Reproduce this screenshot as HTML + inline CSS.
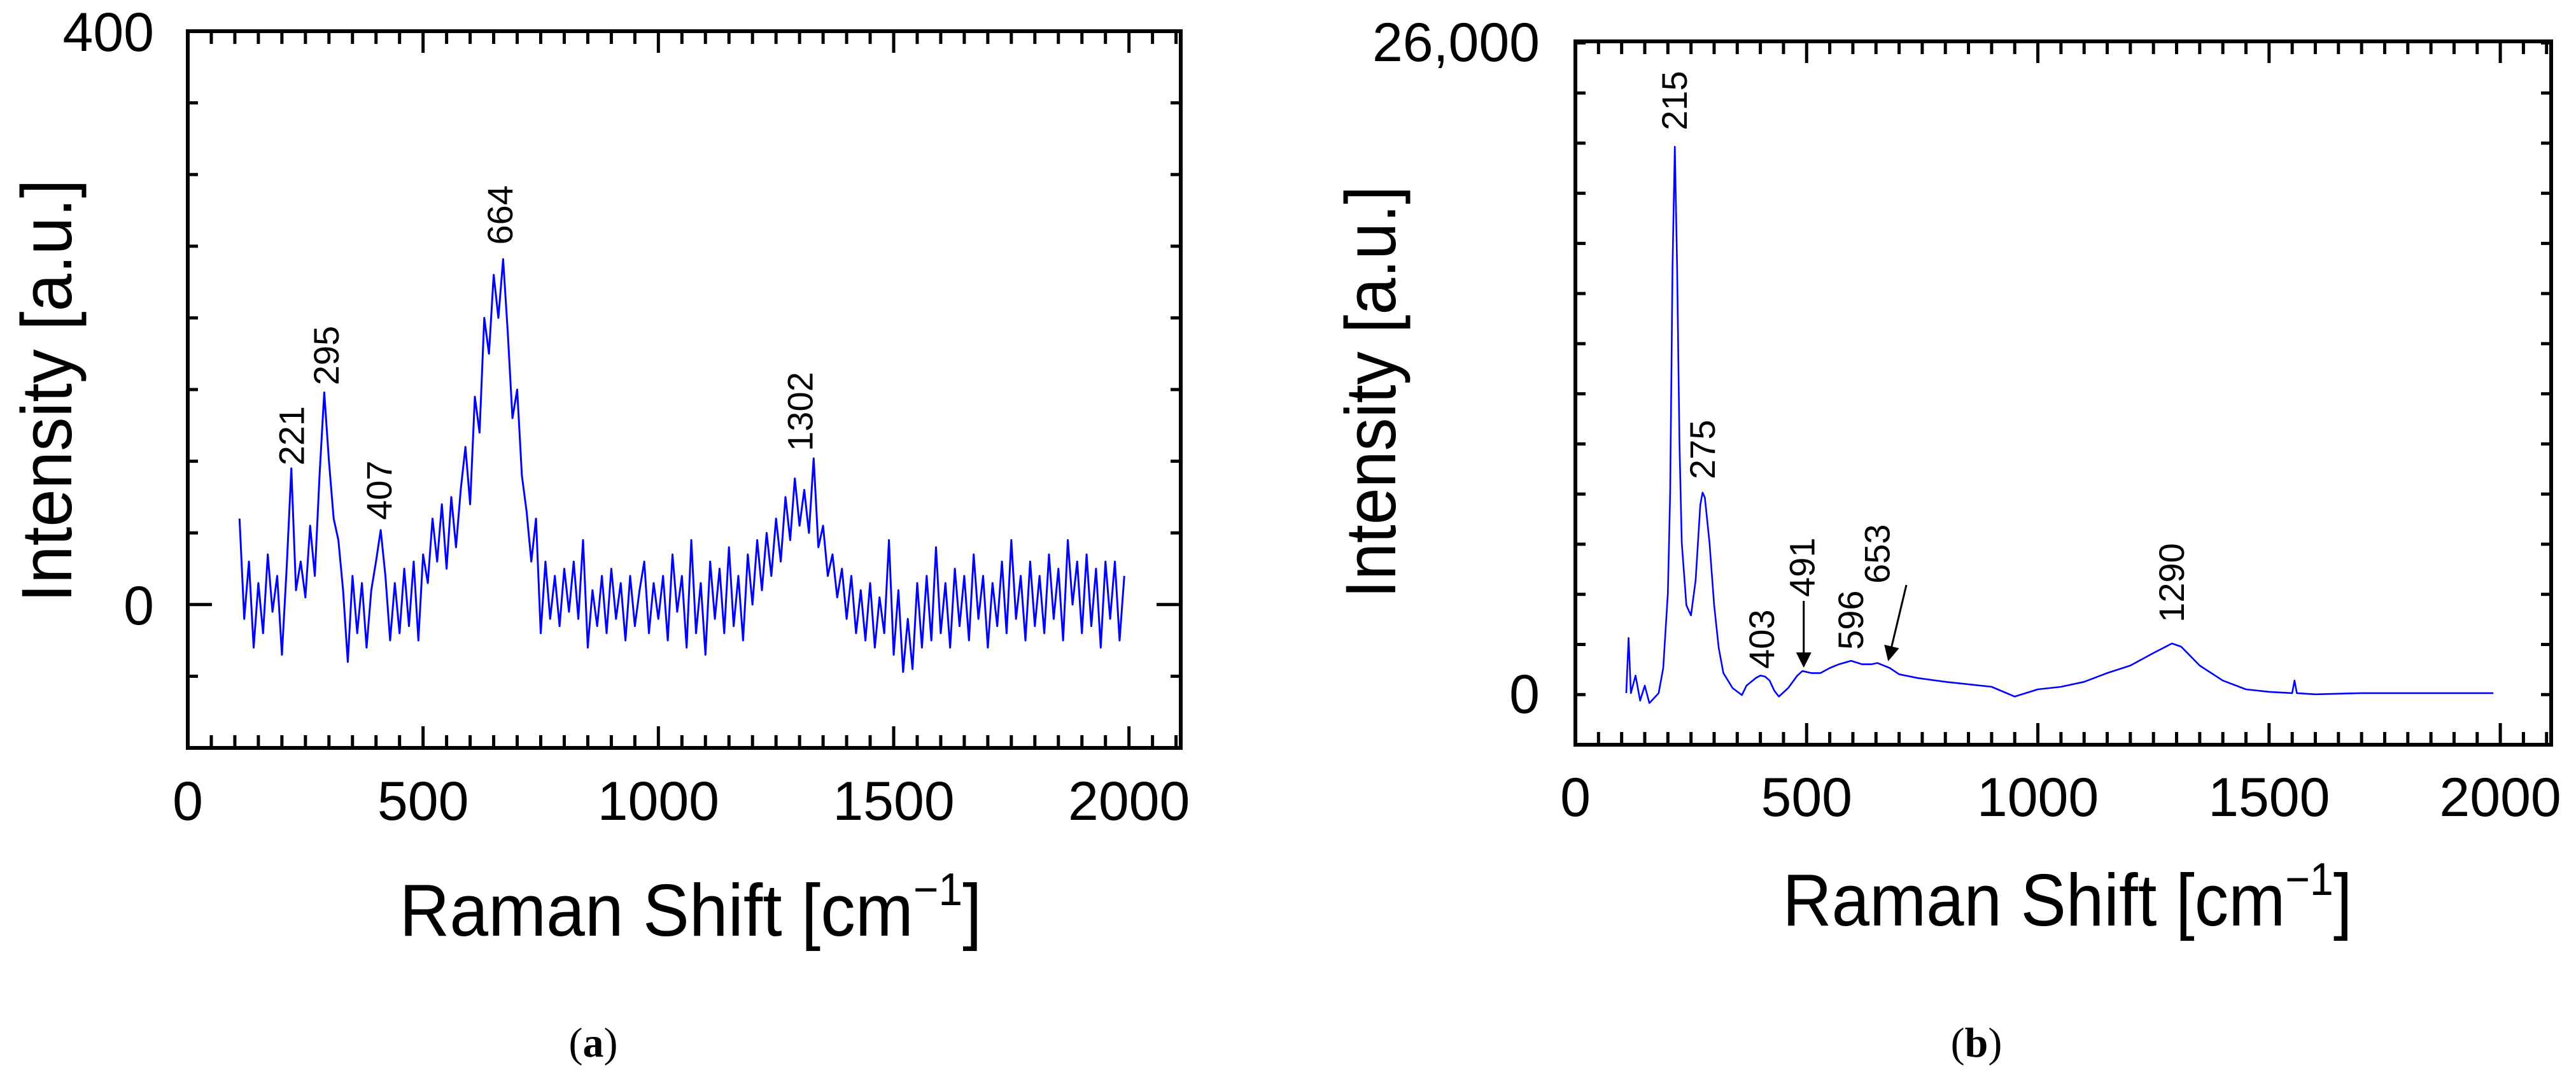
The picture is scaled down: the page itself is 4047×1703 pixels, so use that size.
<!DOCTYPE html>
<html><head><meta charset="utf-8"><style>
html,body{margin:0;padding:0;background:#fff;}
svg{display:block;font-family:"Liberation Sans",Arial,sans-serif;}
</style></head><body>
<svg id="fig" width="4047" height="1703" viewBox="0 0 4047 1703" xmlns="http://www.w3.org/2000/svg">
<rect width="4047" height="1703" fill="#fff"/>
</svg>
<script>
// ---------- Panel (a) data ----------
const aXStart = 110;
const aXStep = 10;
const aValues = [60,-10,30,-30,15,-20,35,-5,20,-35,25,95,10,30,5,55,20,90,148,100,
60,45,10,-40,20,-20,15,-30,10,30,52,20,-25,15,-20,25,-15,30,-25,35,
15,60,30,70,25,75,40,80,110,70,145,120,200,175,230,200,241,190,130,150,
90,65,30,60,-20,30,-10,20,-15,25,-5,30,-10,45,-30,10,-15,20,-20,25,
-10,15,-25,20,-15,10,30,-20,15,-10,20,-25,35,-5,20,-30,45,-20,15,-35,
30,-10,25,-20,40,-15,20,-25,35,0,45,10,50,20,60,30,75,45,88,55,
80,50,102,40,55,20,35,5,25,-10,20,-20,10,-25,15,-30,5,-20,45,-35,
10,-47,-10,-45,15,-30,20,-25,40,-20,15,-30,25,-15,20,-25,35,-10,20,-30,
15,-15,30,-20,45,-10,20,-25,30,-15,20,-20,35,-10,25,-25,45,0,30,-20,
35,-15,25,-30,30,-10,30,-25,20];
const aXTicks = [0,500,1000,1500,2000];
const aYTickLabels = [0,400];
const aPeakX = [221,295,407,664,1302];
const aPeakLabelY = [97,153,59,251,107];
const aPeakText = ["221","295","407","664","1302"];

// ---------- Panel (b) data ----------
const bX = [110,115,120,130,140,150,160,170,180,190,200,205,210,215,220,225,230,240,250,260,270,275,280,290,300,310,320,340,360,370,390,400,410,420,430,440,460,480,491,510,530,550,570,596,620,640,653,680,700,740,800,850,900,950,1000,1050,1100,1150,1200,1250,1290,1310,1350,1400,1450,1500,1550,1555,1560,1600,1700,1800,1900,1985];
const bY = [0,2200,0,700,-300,300,-400,-200,0,1000,4000,8000,17000,21800,17000,10000,6000,3500,3100,4500,7500,8000,7800,6000,3500,1800,800,200,-80,300,600,700,660,500,100,-137,200,700,880,800,800,1000,1150,1290,1150,1150,1200,1000,750,600,450,350,250,-137,150,250,450,800,1100,1600,1980,1850,1100,500,150,50,0,500,0,-50,0,0,0,0];
const bXTicks = [0,500,1000,1500,2000];
const bYTickLabels = ["0","26,000"];
const bYTickVals = [0,26000];
const bPeakX = [215,275,403,491,596,653,1290];
const bPeakLabelY = [22450,8530,965,3835,1727,4368,2820];
const bPeakText = ["215","275","403","491","596","653","1290"];

const NS = "http://www.w3.org/2000/svg";
const svg = document.getElementById('fig');
function mk(tag, attrs, parent, text){
  const e = document.createElementNS(NS, tag);
  for (const k in attrs) e.setAttribute(k, attrs[k]);
  if (text !== undefined) e.textContent = text;
  (parent || svg).appendChild(e);
  return e;
}

function panel(cfg){
  const g = mk('g', {});
  
  
  const sx = v => cfg.L + (v - cfg.xmin) / (cfg.xmax - cfg.xmin) * (cfg.R - cfg.L);
  const sy = v => cfg.B - (v - cfg.ymin) / (cfg.ymax - cfg.ymin) * (cfg.B - cfg.T);
  const tg = mk('g', {stroke:'#000','stroke-width':5}, g);
  
  
  for (let v = 0; v <= cfg.xmax; v += 50){
    const major = v % 500 === 0;
    const len = major ? 34 : 20;
    const x = sx(v);
    mk('line', {x1:x, y1:cfg.B, x2:x, y2:cfg.B - len}, tg);
    mk('line', {x1:x, y1:cfg.T, x2:x, y2:cfg.T + len}, tg);
  }
  for (let v = cfg.ymin; v <= cfg.ymax + 1e-6; v += cfg.ystep){
    if (v <= cfg.ymin || v >= cfg.ymax) continue;
    const major = Math.abs(v) < 1e-6;
    const len = major ? 38 : 16;
    const y = sy(v);
    mk('line', {x1:cfg.L, y1:y, x2:cfg.L + len, y2:y}, tg);
    mk('line', {x1:cfg.R, y1:y, x2:cfg.R - len, y2:y}, tg);
  }
  const fr = mk('rect', {x:cfg.L, y:cfg.T, width:cfg.R - cfg.L, height:cfg.B - cfg.T, fill:'none', stroke:'#000', 'stroke-width':6}, g);
  
  
  let d = '';
  cfg.xs.forEach((x, i) => { d += (i ? 'L' : 'M') + sx(x).toFixed(1) + ' ' + sy(cfg.ys[i]).toFixed(1); });
  const p = mk('path', {d:d, fill:'none', stroke:'#0000ff', 'stroke-width':cfg.lw, 'stroke-linejoin':'round'}, g);
  
  
  cfg.xTicks.forEach(v => {
    const t = mk('text', {x:sx(v), y:cfg.xLabelY, 'font-size':86, 'text-anchor':'middle'}, g, String(v));
    
    
  });
  cfg.yTickVals.forEach((v, i) => {
    const t = mk('text', {x:cfg.yLabelX, y:sy(v) + 31, 'font-size':86, 'text-anchor':'end'}, g, cfg.yTickText[i]);
    
    
  });
  cfg.peakX.forEach((v, i) => {
    const x = sx(v) + 19, y = sy(cfg.peakY[i]);
    const t = mk('text', {x:0, y:0, 'font-size':56, transform:'translate(' + x + ',' + y + ') rotate(-90)'}, g, cfg.peakText[i]);
    
    
  });
  const xt = mk('text', {x:cfg.xTitleX, y:cfg.xTitleY, 'font-size':116, 'text-anchor':'middle', textLength:cfg.xTitleLen, lengthAdjust:'spacingAndGlyphs'}, g);
  
  
  mk('tspan', {}, xt, 'Raman Shift [cm');
  mk('tspan', {dy:-48, 'font-size':72}, xt, '\u22121');
  mk('tspan', {dy:48}, xt, ']');
  const yt = mk('text', {x:0, y:0, 'font-size':112, 'text-anchor':'middle', textLength:cfg.yTitleLen, lengthAdjust:'spacingAndGlyphs', transform:'translate(' + cfg.yTitleX + ',' + cfg.yTitleY + ') rotate(-90)'}, g, 'Intensity [a.u.]');
  
  
  const cap = mk('text', {x:cfg.capX, y:1660, 'font-size':66, 'text-anchor':'middle', 'font-family':'"Liberation Serif", serif'}, g);
  
  
  mk('tspan', {}, cap, '(');
  mk('tspan', {'font-weight':'bold'}, cap, cfg.capLetter);
  mk('tspan', {}, cap, ')');
  return {sx, sy, g};
}

const aXs = aValues.map((_, i) => aXStart + aXStep * i);
panel({name:'panel-a', L:295, R:1855, T:49, B:1175, xmin:0, xmax:2110, ymin:-100, ymax:400, ystep:50,
  xs:aXs, ys:aValues, lw:3, xTicks:aXTicks, xLabelY:1288,
  yTickVals:aYTickLabels, yTickText:aYTickLabels.map(String), yLabelX:242,
  peakX:aPeakX, peakY:aPeakLabelY, peakText:aPeakText,
  xTitleX:1085, xTitleY:1470, xTitleLen:915, yTitleX:112, yTitleY:614, yTitleLen:665,
  capX:932, capLetter:'a'});

const pb = panel({name:'panel-b', L:2475, R:4008, T:65, B:1170, xmin:0, xmax:2110, ymin:-2060, ymax:26000, ystep:2000,
  xs:bX, ys:bY, lw:2.6, xTicks:bXTicks, xLabelY:1282,
  yTickVals:bYTickVals, yTickText:bYTickLabels, yLabelX:2419,
  peakX:bPeakX, peakY:bPeakLabelY, peakText:bPeakText,
  xTitleX:3248, xTitleY:1454, xTitleLen:895, yTitleX:2192, yTitleY:616, yTitleLen:648,
  capX:3105, capLetter:'b'});

const defs = mk('defs', {});
const mkr = mk('marker', {id:'ah', markerWidth:8, markerHeight:8, refX:7, refY:4, orient:'auto', markerUnits:'strokeWidth'}, defs);
mk('path', {d:'M0,0 L8,4 L0,8 Z', fill:'#000'}, mkr);
const ar1 = mk('line', {x1:pb.sx(491)+2, y1:944, x2:pb.sx(491)+2, y2:1046, stroke:'#000', 'stroke-width':3, 'marker-end':'url(#ah)'}, pb.g);


const ar2 = mk('line', {x1:2995, y1:919, x2:2967, y2:1036, stroke:'#000', 'stroke-width':3, 'marker-end':'url(#ah)'}, pb.g);


</script>
</body></html>
